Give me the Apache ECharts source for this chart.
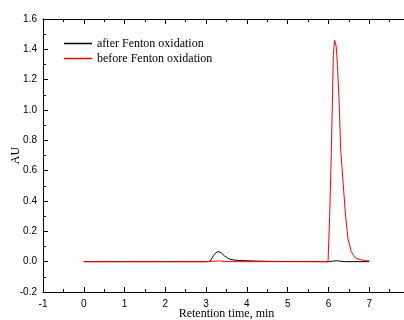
<!DOCTYPE html>
<html>
<head>
<meta charset="utf-8">
<script src="https://cdn.jsdelivr.net/npm/echarts@6/dist/echarts.min.js"></script>
<style>html,body{margin:0;padding:0;background:#fff}#c{width:404px;height:320px}</style>
</head>
<body>
<div id="c"></div>
<script>
var seriesNames = ['after Fenton oxidation', 'before Fenton oxidation'];
var xTickLabels = ['-1','0','1','2','3','4','5','6','7','8'];
var yTickLabels = ['-0.2','0.0','0.2','0.4','0.6','0.8','1.0','1.2','1.4','1.6'];
var timeAfter = [0, 1, 2, 3.0, 3.07, 3.12, 3.18, 3.25, 3.31, 3.38, 3.45, 3.5, 3.58, 3.7, 3.86, 4.2, 4.6, 5.0, 6.0, 6.1, 6.2, 6.3, 6.4, 7.0];
var valuesAfter = [0, 0, 0, 0, 0.001, 0.012, 0.04, 0.062, 0.066, 0.056, 0.038, 0.029, 0.016, 0.01, 0.007, 0.004, 0.002, 0.001, 0, 0.003, 0.006, 0.003, 0, 0];
var timeBefore = [0, 1, 2, 3.0, 3.15, 3.3, 3.45, 3.6, 5.0, 5.99, 6.03, 6.07, 6.10, 6.12, 6.15, 6.17, 6.19, 6.22, 6.26, 6.30, 6.36, 6.42, 6.48, 6.56, 6.62, 6.68, 6.8, 6.9, 7.0];
var valuesBefore = [0, 0, 0, 0, 0.002, 0.005, 0.002, 0, 0, 0, 0.3, 0.72, 1.1, 1.36, 1.46, 1.46, 1.42, 1.3, 1.07, 0.74, 0.52, 0.30, 0.15, 0.066, 0.04, 0.022, 0.012, 0.007, 0.005];

function pairs(xs, ys){ return xs.map(function(x,i){ return [x, ys[i]]; }); }

var chart = echarts.init(document.getElementById('c'), null, {renderer:'canvas'});
var sansFont = 'Liberation Sans';
var serifFont = 'Liberation Serif';
var axisCommon = {
  axisLine: {show:true, onZero:false, lineStyle:{color:'#000', width:1}},
  axisTick: {show:true, inside:true, length:5, lineStyle:{color:'#000', width:1}},
  minorTick: {show:true, splitNumber:2, length:3, lineStyle:{color:'#000', width:1}},
  splitLine: {show:false}
};
chart.setOption({
  animation:false,
  backgroundColor:'#fff',
  grid:{left:43, top:19, width:367, height:273, containLabel:false, outerBoundsMode:'none'},
  legend:{
    left:64, top:37, padding:0, orient:'vertical', itemWidth:28, itemHeight:1.5, itemGap:2,
    icon:'rect',
    textStyle:{fontFamily:serifFont, fontSize:12, color:'#000', lineHeight:13},
    data:[{name:seriesNames[0], itemStyle:{color:'#000'}},{name:seriesNames[1], itemStyle:{color:'#ff0000'}}]
  },
  xAxis:[
    Object.assign({}, axisCommon, {
      type:'value', min:-1, max:8, interval:1, position:'bottom',
      name:'Retention time, min', nameLocation:'middle', nameGap:16, nameMoveOverlap:false,
      nameTextStyle:{fontFamily:serifFont, fontSize:12, color:'#000'},
      axisLabel:{fontFamily:sansFont, fontSize:10, color:'#000', margin:7,
        formatter:function(v){ var i = Math.round(v+1); return xTickLabels[i]; }}
    }),
    Object.assign({}, axisCommon, {
      type:'value', min:-1, max:8, interval:1, position:'top',
      axisLabel:{show:false}
    })
  ],
  yAxis:[
    Object.assign({}, axisCommon, {
      type:'value', min:-0.2, max:1.6, interval:0.2, position:'left',
      name:'AU', nameLocation:'middle', nameGap:21, nameRotate:90, nameMoveOverlap:false,
      nameTextStyle:{fontFamily:serifFont, fontSize:12, color:'#000'},
      axisLabel:{fontFamily:sansFont, fontSize:10, color:'#000', margin:6,
        formatter:function(v){ var i = Math.round((v+0.2)/0.2); return yTickLabels[i]; }}
    }),
    Object.assign({}, axisCommon, {
      type:'value', min:-0.2, max:1.6, interval:0.2, position:'right',
      axisLabel:{show:false}
    })
  ],
  series:[
    {name:seriesNames[0], type:'line', xAxisIndex:0, yAxisIndex:0, showSymbol:false, symbol:'none',
     lineStyle:{color:'#000', width:1}, itemStyle:{color:'#000'}, data:pairs(timeAfter, valuesAfter), z:2},
    {name:seriesNames[1], type:'line', xAxisIndex:0, yAxisIndex:0, showSymbol:false, symbol:'none',
     lineStyle:{color:'#ff0000', width:1}, itemStyle:{color:'#ff0000'}, data:pairs(timeBefore, valuesBefore), z:3}
  ]
});
</script>
</body>
</html>
